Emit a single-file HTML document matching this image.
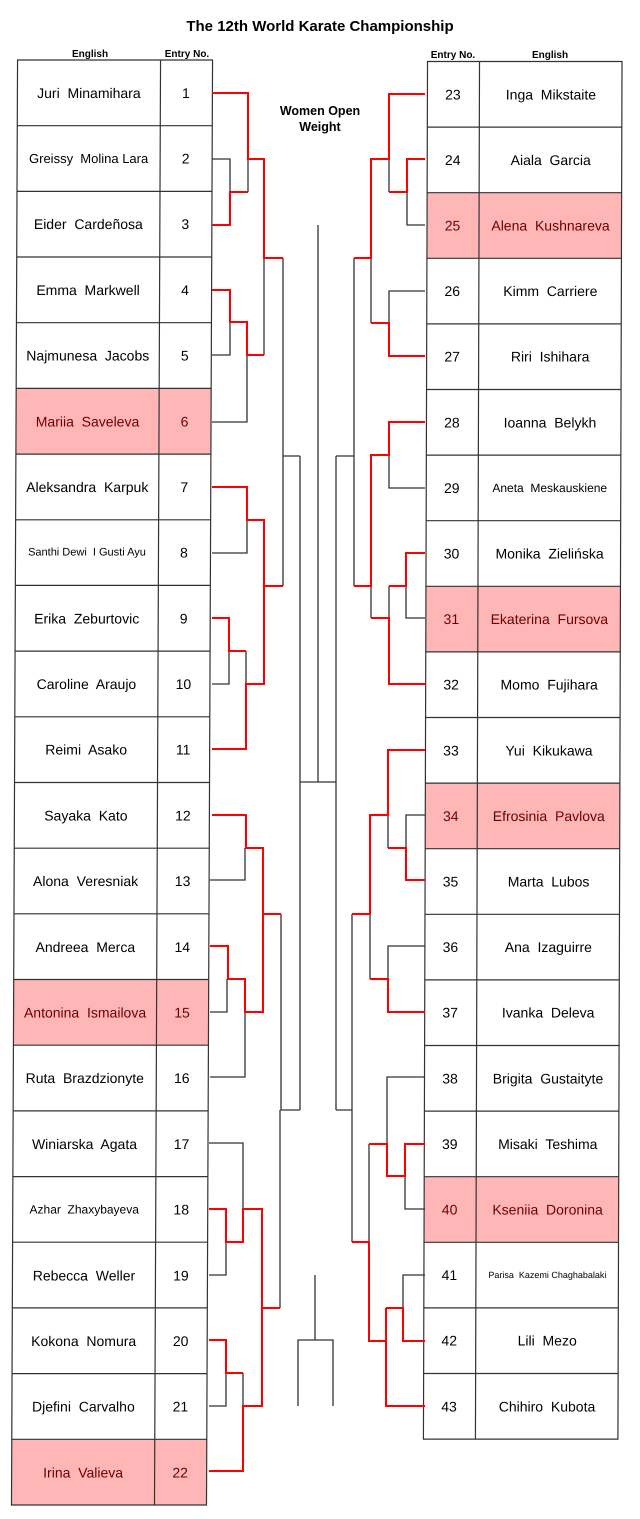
<!DOCTYPE html>
<html><head><meta charset="utf-8"><style>
html,body{margin:0;padding:0;background:#fff;}
svg{display:block;}
text{font-family:"Liberation Sans","Noto Sans CJK JP",sans-serif;}
.n{font-size:14px;text-anchor:middle;dominant-baseline:central;white-space:pre;}
.h{font-size:10px;font-weight:bold;text-anchor:middle;}
.w{fill:#6b0000;}
.B{fill:none;stroke:#333;stroke-width:1.3;}
.R{fill:none;stroke:#f00;stroke-width:2;}
.g{fill:none;stroke:#333;stroke-width:1.2;}
</style></head><body>
<svg width="640" height="1519" viewBox="0 0 640 1519" xmlns="http://www.w3.org/2000/svg" xml:space="preserve">
<text x="320" y="31" style="font-size:15px;font-weight:bold" text-anchor="middle">The 12th World Karate Championship</text>
<text class="h" x="90" y="57">English</text>
<text class="h" x="187" y="57">Entry No.</text>
<text class="h" x="453" y="58">Entry No.</text>
<text class="h" x="550" y="58">English</text>
<text x="320" y="115" style="font-size:12.5px;font-weight:bold" text-anchor="middle">Women Open</text>
<text x="320" y="131" style="font-size:12.5px;font-weight:bold" text-anchor="middle">Weight</text>

<!-- LEFT TABLE -->
<g transform="translate(0.3,0) skewX(-0.24)">
<rect x="17.5" y="388.4" width="195" height="65.7" fill="#ffb6b6"/>
<rect x="17.5" y="979.5" width="195" height="65.7" fill="#ffb6b6"/>
<rect x="17.5" y="1439.3" width="195" height="65.7" fill="#ffb6b6"/>
<rect x="17.5" y="60" width="195" height="1445" class="g"/>
<path class="g" d="M160.5,60V1505 M17.5,125.7H212.5 M17.5,191.4H212.5 M17.5,257H212.5 M17.5,322.7H212.5 M17.5,388.4H212.5 M17.5,454.1H212.5 M17.5,519.8H212.5 M17.5,585.4H212.5 M17.5,651.1H212.5 M17.5,716.8H212.5 M17.5,782.5H212.5 M17.5,848.2H212.5 M17.5,913.8H212.5 M17.5,979.5H212.5 M17.5,1045.2H212.5 M17.5,1110.9H212.5 M17.5,1176.6H212.5 M17.5,1242.2H212.5 M17.5,1307.9H212.5 M17.5,1373.6H212.5 M17.5,1439.3H212.5"/>
<text class="n" x="89" y="92.8">Juri  Minamihara</text><text class="n" x="186" y="92.8">1</text>
<text class="n" x="89" y="158.5" style="font-size:13px">Greissy  Molina Lara</text><text class="n" x="186" y="158.5">2</text>
<text class="n" x="89" y="224.2">Eider  Cardeñosa</text><text class="n" x="186" y="224.2">3</text>
<text class="n" x="89" y="289.9">Emma  Markwell</text><text class="n" x="186" y="289.9">4</text>
<text class="n" x="89" y="355.6">Najmunesa  Jacobs</text><text class="n" x="186" y="355.6">5</text>
<text class="n w" x="89" y="421.3">Mariia  Saveleva</text><text class="n w" x="186" y="421.3">6</text>
<text class="n" x="89" y="487">Aleksandra  Karpuk</text><text class="n" x="186" y="487">7</text>
<text class="n" x="89" y="552.6" style="font-size:11px">Santhi Dewi  I Gusti Ayu</text><text class="n" x="186" y="552.6">8</text>
<text class="n" x="89" y="618.3">Erika  Zeburtovic</text><text class="n" x="186" y="618.3">9</text>
<text class="n" x="89" y="684">Caroline  Araujo</text><text class="n" x="186" y="684">10</text>
<text class="n" x="89" y="749.7">Reimi  Asako</text><text class="n" x="186" y="749.7">11</text>
<text class="n" x="89" y="815.4">Sayaka  Kato</text><text class="n" x="186" y="815.4">12</text>
<text class="n" x="89" y="881.1">Alona  Veresniak</text><text class="n" x="186" y="881.1">13</text>
<text class="n" x="89" y="946.8">Andreea  Merca</text><text class="n" x="186" y="946.8">14</text>
<text class="n w" x="89" y="1012.5">Antonina  Ismailova</text><text class="n w" x="186" y="1012.5">15</text>
<text class="n" x="89" y="1078.2">Ruta  Brazdzionyte</text><text class="n" x="186" y="1078.2">16</text>
<text class="n" x="89" y="1143.9">Winiarska  Agata</text><text class="n" x="186" y="1143.9">17</text>
<text class="n" x="89" y="1209.6" style="font-size:12px">Azhar  Zhaxybayeva</text><text class="n" x="186" y="1209.6">18</text>
<text class="n" x="89" y="1275.3">Rebecca  Weller</text><text class="n" x="186" y="1275.3">19</text>
<text class="n" x="89" y="1341">Kokona  Nomura</text><text class="n" x="186" y="1341">20</text>
<text class="n" x="89" y="1406.6">Djefini  Carvalho</text><text class="n" x="186" y="1406.6">21</text>
<text class="n w" x="89" y="1472.3">Irina  Valieva</text><text class="n w" x="186" y="1472.3">22</text>
</g>

<!-- RIGHT TABLE -->
<g transform="translate(0.2,0) skewX(-0.17)">
<rect x="427.5" y="192.7" width="194.5" height="65.6" fill="#ffb6b6"/>
<rect x="427.5" y="586.3" width="194.5" height="65.6" fill="#ffb6b6"/>
<rect x="427.5" y="783.1" width="194.5" height="65.6" fill="#ffb6b6"/>
<rect x="427.5" y="1176.7" width="194.5" height="65.6" fill="#ffb6b6"/>
<rect x="427.5" y="61.5" width="194.5" height="1377.6" class="g"/>
<path class="g" d="M479.5,61.5V1439 M427.5,127.1H622 M427.5,192.7H622 M427.5,258.3H622 M427.5,323.9H622 M427.5,389.5H622 M427.5,455.1H622 M427.5,520.7H622 M427.5,586.3H622 M427.5,651.9H622 M427.5,717.5H622 M427.5,783.1H622 M427.5,848.7H622 M427.5,914.3H622 M427.5,979.9H622 M427.5,1045.5H622 M427.5,1111.1H622 M427.5,1176.7H622 M427.5,1242.3H622 M427.5,1307.9H622 M427.5,1373.5H622"/>
<text class="n" x="453" y="94.3">23</text><text class="n" x="551" y="94.3">Inga  Mikstaite</text>
<text class="n" x="453" y="159.9">24</text><text class="n" x="551" y="159.9">Aiala  Garcia</text>
<text class="n w" x="453" y="225.5">25</text><text class="n w" x="551" y="225.5">Alena  Kushnareva</text>
<text class="n" x="453" y="291.1">26</text><text class="n" x="551" y="291.1">Kimm  Carriere</text>
<text class="n" x="453" y="356.7">27</text><text class="n" x="551" y="356.7">Riri  Ishihara</text>
<text class="n" x="453" y="422.3">28</text><text class="n" x="551" y="422.3">Ioanna  Belykh</text>
<text class="n" x="453" y="487.9">29</text><text class="n" x="551" y="487.9" style="font-size:12px">Aneta  Meskauskiene</text>
<text class="n" x="453" y="553.5">30</text><text class="n" x="551" y="553.5">Monika  Zielińska</text>
<text class="n w" x="453" y="619.1">31</text><text class="n w" x="551" y="619.1">Ekaterina  Fursova</text>
<text class="n" x="453" y="684.7">32</text><text class="n" x="551" y="684.7">Momo  Fujihara</text>
<text class="n" x="453" y="750.3">33</text><text class="n" x="551" y="750.3">Yui  Kikukawa</text>
<text class="n w" x="453" y="815.9">34</text><text class="n w" x="551" y="815.9">Efrosinia  Pavlova</text>
<text class="n" x="453" y="881.5">35</text><text class="n" x="551" y="881.5">Marta  Lubos</text>
<text class="n" x="453" y="947.1">36</text><text class="n" x="551" y="947.1">Ana  Izaguirre</text>
<text class="n" x="453" y="1012.7">37</text><text class="n" x="551" y="1012.7">Ivanka  Deleva</text>
<text class="n" x="453" y="1078.3">38</text><text class="n" x="551" y="1078.3">Brigita  Gustaityte</text>
<text class="n" x="453" y="1143.9">39</text><text class="n" x="551" y="1143.9">Misaki  Teshima</text>
<text class="n w" x="453" y="1209.5">40</text><text class="n w" x="551" y="1209.5">Kseniia  Doronina</text>
<text class="n" x="453" y="1275.1">41</text><text class="n" x="551" y="1275.1" style="font-size:9px">Parisa  Kazemi Chaghabalaki</text>
<text class="n" x="453" y="1340.7">42</text><text class="n" x="551" y="1340.7">Lili  Mezo</text>
<text class="n" x="453" y="1406.3">43</text><text class="n" x="551" y="1406.3">Chihiro  Kubota</text>
</g>

<!-- LEFT BRACKETS black -->
<path class="B" d="M212,159H230V192 M248,159V192 M212,355H230V322 M212,422H247V355 M264,258V355 M283,258V586 M283,456H300 M212,553H247V520 M212,684H229V651 M246,651V684 M300,456V1110 M300,782H336 M318,225V782 M336,456V1110 M210,880H245V848 M210,1012H227V979 M210,1077H245V1012 M281,914V1110H300 M280,1110V1308 M209,1143H243V1209 M209,1275H226V1242 M243,1373V1406 M209,1406H226V1373 M315,1275V1340 M298,1406V1340H333V1406"/>
<!-- LEFT BRACKETS red -->
<path class="R" d="M212,93H248V159H264V258H283 M212,225H230V192H248 M212,290H230V322H247V355H264 M212,487H247V520H264V684H246V749H212 M264,586H283 M212,618H229V651H246 M212,815H246V848H263V1012H245V979H228V946H210 M263,914H281 M209,1209H226V1242H243V1209H262V1406H243V1471H209 M262,1308H280 M209,1340H226V1373H243"/>

<!-- RIGHT BRACKETS black -->
<path class="B" d="M389,159V192 M425,225H407V192 M371,258V323 M425,291H389V323 M354,258V586 M354,456H336 M389,455V488H425 M406,586V618H425 M389,586V618 M371,586V618 M352,914V1242 M352,1110H336 M388,815V848 M425,815H406V848 M370,914V979 M425,946H388V979 M425,1077H387V1144 M405,1176V1209H425 M369,1144V1242 M425,1275H403V1308"/>
<!-- RIGHT BRACKETS red -->
<path class="R" d="M425,94H389V159H371V258H354 M425,159H407V192H389 M371,323H389V356H425 M425,422H389V455H371V586H354 M425,553H406V586H389 M371,618H389V684H425 M425,750H388V815H370V914H352 M388,848H406V880H425 M370,979H388V1012H425 M369,1144H387V1176H405V1144H425 M352,1242H369V1341H386 M386,1308V1406H425 M386,1308H403V1341H425"/>
</svg>
</body></html>
